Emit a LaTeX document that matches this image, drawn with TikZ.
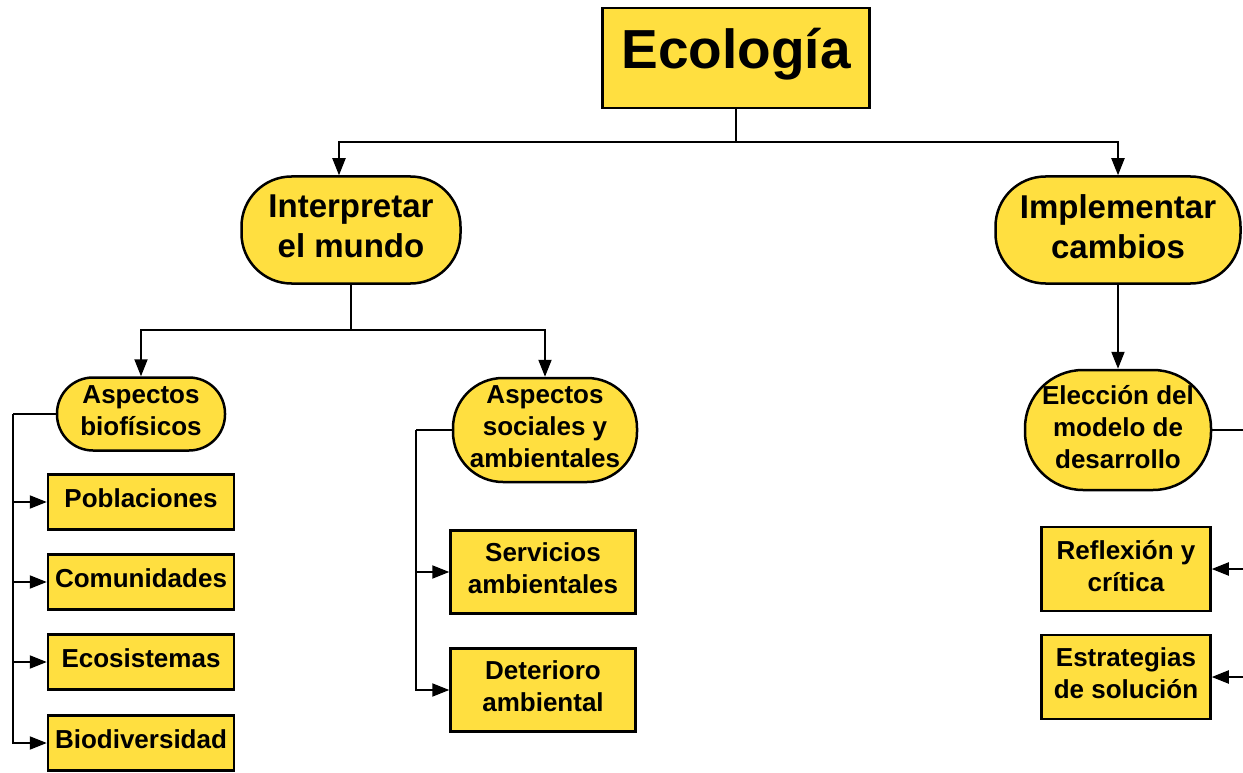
\documentclass[tikz,border=0pt]{standalone}
\usepackage{fontspec}
\setmainfont{Liberation Sans}
\usepackage{tikz}
\usetikzlibrary{arrows.meta,positioning,calc}
\definecolor{ecoyellow}{HTML}{FFDF40}
\tikzset{
  sqbox/.style={draw=black,line width=2.5pt,fill=ecoyellow,align=center,inner sep=0pt,
    font=\fontsize{26}{32}\selectfont\bfseries,
    execute at end node={\rule[-7pt]{0pt}{7pt}}},
  rdbox/.style={sqbox,rounded corners=#1},
  rdbox/.default=36pt,
  link/.style={line width=2pt,draw=black}
}
\begin{document}
\begin{tikzpicture}[x=1pt,y=-1pt,>={Triangle[length=17pt,width=13pt]}]
  \useasboundingbox (0,0) rectangle (1243,773);
  \clip (0,0) rectangle (1243,773);
  % top level
  \node [sqbox,minimum width=267pt,minimum height=100pt,font=\fontsize{55}{60}\selectfont\bfseries,
    execute at end node={\rule[-20pt]{0pt}{20pt}}] (ecol) at (736,58) {Ecología};
  \node [rdbox=50pt,minimum width=219pt,minimum height=107pt,font=\fontsize{33}{40}\selectfont\bfseries] (interp) at (351,230) {Interpretar\\el mundo};
  \node [rdbox=50pt,minimum width=245pt,minimum height=107pt,font=\fontsize{33}{40}\selectfont\bfseries] (implem) at (1118,230) {Implementar\\cambios};
  % second level
  \node [rdbox=36pt,minimum width=168pt,minimum height=73pt] (biof) at (141,414) {Aspectos\\biofísicos};
  \node [rdbox=50pt,minimum width=184pt,minimum height=104pt] (socamb) at (545,430) {Aspectos\\sociales y\\ambientales};
  \node [rdbox=58pt,minimum width=186pt,minimum height=120pt] (elecc) at (1118,430) {Elección del\\modelo de\\desarrollo};
  % leaves
  \node [sqbox,minimum width=186pt,minimum height=55pt] (pobl) at (141,502) {Poblaciones};
  \node [sqbox,minimum width=186pt,minimum height=55pt] (comu) at (141,582) {Comunidades};
  \node [sqbox,minimum width=186pt,minimum height=55pt] (ecos) at (141,662) {Ecosistemas};
  \node [sqbox,minimum width=186pt,minimum height=55pt] (biod) at (141,743) {Biodiversidad};
  \node [sqbox,minimum width=185pt,minimum height=83pt] (serv) at (543,572) {Servicios\\ambientales};
  \node [sqbox,minimum width=185pt,minimum height=83pt] (deter) at (543,690) {Deterioro\\ambiental};
  \node [sqbox,minimum width=169pt,minimum height=84pt] (refl) at (1126,569) {Reflexión y\\crítica};
  \node [sqbox,minimum width=169pt,minimum height=84pt] (estr) at (1126,677) {Estrategias\\de solución};
  % connectors
  \coordinate (ecoljoin) at (736,142);
  \draw [link] (ecol.south) -- (ecoljoin);
  \draw [link,->] (ecoljoin) -| ([xshift=-12pt]interp.north);
  \draw [link,->] (ecoljoin) -| (implem.north);
  \coordinate (interpjoin) at (351,330);
  \draw [link] (interp.south) -- (interpjoin);
  \draw [link,->] (interpjoin) -| (biof.north);
  \draw [link,->] (interpjoin) -| (socamb.north);
  \draw [link,->] (implem.south) -- (elecc.north);
  \coordinate (biofbus) at (13,414);
  \draw [link] (biof.west) -- (biofbus);
  \foreach \leaf in {pobl,comu,ecos,biod}
    \draw [link,->] (biofbus) |- (\leaf.west);
  \coordinate (socbus) at (416,430);
  \draw [link] (socamb.west) -- (socbus);
  \foreach \leaf in {serv,deter}
    \draw [link,->] (socbus) |- (\leaf.west);
  \coordinate (eleccbus) at (1262,430);
  \draw [link] (elecc.east) -- (eleccbus);
  \foreach \leaf in {refl,estr}
    \draw [link,->] (eleccbus) |- (\leaf.east);
\end{tikzpicture}
\end{document}
